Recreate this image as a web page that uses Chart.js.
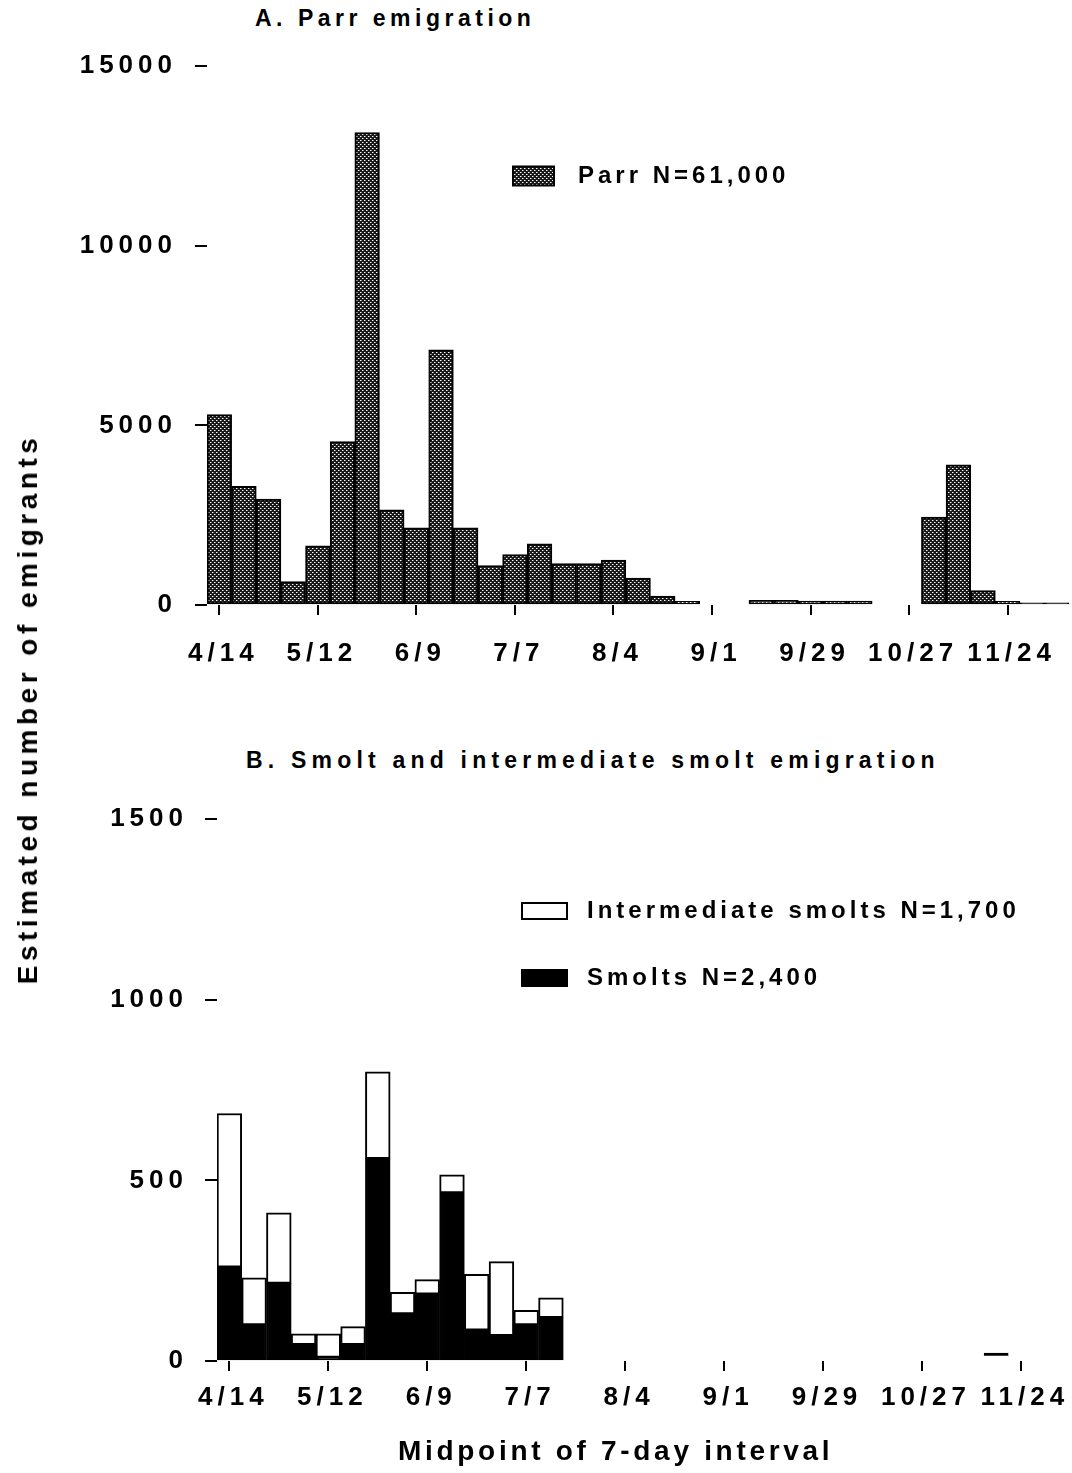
<!DOCTYPE html>
<html lang="en">
<head>
<meta charset="utf-8">
<title>Parr and smolt emigration</title>
<script src="https://cdn.jsdelivr.net/npm/chart.js@4.4.1/dist/chart.umd.min.js"></script>
<style>
  html, body { margin: 0; padding: 0; background: #fff; overflow: hidden; }
  body { width: 1072px; height: 1473px; position: relative; font-family: 'Liberation Sans', Arial, sans-serif; font-weight: bold; color: #000; }
  canvas { position: absolute; left: 0; }
  #chart-parr { top: 0; }
  #chart-smolt { top: 700px; }
  .title { position: absolute; font-size: 23px; white-space: nowrap; line-height: 1; }
  #title-a { left: 255px; top: 7px; letter-spacing: 4.5px; }
  #title-b { left: 246px; top: 749px; letter-spacing: 5.2px; }
  #x-title { position: absolute; left: 398px; top: 1437px; font-size: 28px; letter-spacing: 3.7px; white-space: nowrap; line-height: 1; }
  #y-title { position: absolute; left: 28px; top: 709px; transform: translate(-50%, -50%) rotate(-90deg); font-size: 28px; letter-spacing: 4.5px; white-space: nowrap; line-height: 1; }
</style>
</head>
<body>
<div class="title" id="title-a">A. Parr emigration</div>
<canvas id="chart-parr" width="1080" height="700"></canvas>
<div class="title" id="title-b">B. Smolt and intermediate smolt emigration</div>
<canvas id="chart-smolt" width="1080" height="773"></canvas>
<div id="y-title">Estimated number of emigrants</div>
<div id="x-title">Midpoint of 7-day interval</div>

<script>
// midpoints of the weekly trapping intervals
const weeks = ['4/14', '4/21', '4/28', '5/5', '5/12', '5/19', '5/26', '6/2', '6/9', '6/16', '6/23', '6/30',
               '7/7', '7/14', '7/21', '7/28', '8/4', '8/11', '8/18', '8/25', '9/1', '9/8', '9/15', '9/22',
               '9/29', '10/6', '10/13', '10/20', '10/27', '11/3', '11/10', '11/17', '11/24', '12/1', '12/8'];
const axisLabels = ['4/14', '5/12', '6/9', '7/7', '8/4', '9/1', '9/29', '10/27', '11/24'];

// A. parr per week
const parr = [5300, 3300, 2950, 650, 1650, 4550, 13150, 2650, 2150, 7100, 2150, 1100,
              1400, 1700, 1150, 1150, 1250, 750, 250, 100, 0, 0, 130, 130,
              110, 110, 110, 0, 0, 2450, 3900, 400, 100, 60, 60];

// B. smolts and intermediate smolts per week (panel stops at 12/1)
const smoltWeeks = weeks.slice(0, 34);
const smolts = [260, 100, 215, 45, 10, 45, 560, 130, 185, 465, 85, 70,
                100, 120, null, null, null, null, null, null, null, null, null, null,
                null, null, null, null, null, null, null, 0, null, null];
const intermediates = [425, 130, 195, 30, 65, 50, 240, 60, 40, 50, 155, 205,
                       40, 55, null, null, null, null, null, null, null, null, null, null,
                       null, null, null, null, null, null, null, 22, null, null];

const FONT = '"Liberation Sans", Arial, sans-serif';
Chart.defaults.font.family = FONT;
Chart.defaults.color = '#000';

// --- stippled fill for the parr bars ---
function stipple(ctx) {
    const tile = document.createElement('canvas');
    tile.width = 4; tile.height = 4;
    const t = tile.getContext('2d');
    t.fillStyle = '#1a1a1a';
    t.fillRect(0, 0, 4, 4);
    t.fillStyle = '#fff';
    t.fillRect(0, 0, 1, 1);
    t.fillRect(2, 2, 1, 1);
    t.fillStyle = '#808080';
    t.fillRect(1, 0, 1, 1);
    t.fillRect(3, 2, 1, 1);
    return ctx.createPattern(tile, 'repeat');
}

// canvas text spacing for tick labels
const spacing = {
    id: 'spacing',
    beforeDraw(chart) { chart.ctx.letterSpacing = '5px'; }
};

// boxed legend drawn at a fixed spot inside the plot
const boxLegend = {
    id: 'boxLegend',
    afterDraw(chart, args, opts) {
        const ctx = chart.ctx;
        ctx.save();
        ctx.letterSpacing = '4px';
        ctx.font = 'bold 24px ' + FONT;
        ctx.textBaseline = 'middle';
        opts.order.forEach((i, n) => {
            const ds = chart.data.datasets[i];
            const y = opts.y + n * opts.step;
            ctx.fillStyle = ds.backgroundColor;
            ctx.fillRect(opts.x, y - opts.h / 2, opts.w, opts.h);
            ctx.lineWidth = 2;
            ctx.strokeStyle = '#000';
            ctx.strokeRect(opts.x, y - opts.h / 2, opts.w, opts.h);
            ctx.fillStyle = '#000';
            ctx.fillText(ds.label, opts.x + opts.w + opts.gap, y);
        });
        ctx.restore();
    }
};

function xAxis(height, padding) {
    return {
        offset: true,
        border: { display: false },
        grid: {
            offset: false,
            drawOnChartArea: false,
            drawTicks: true,
            tickLength: 10,
            lineWidth: 2,
            color: c => (c.tick && c.tick.label) ? '#000' : 'rgba(0,0,0,0)'
        },
        ticks: {
            autoSkip: false,
            maxRotation: 0,
            minRotation: 0,
            padding: padding,
            labelOffset: 4,
            font: { size: 26, weight: 'bold' },
            callback: function (value) {
                const l = this.getLabelForValue(value);
                return axisLabels.includes(l) ? l : '';
            }
        },
        afterFit: s => { s.height = height; }
    };
}

function yAxis(max, step, width, padding) {
    return {
        min: 0,
        max: max,
        border: { display: false },
        grid: { drawOnChartArea: false, drawTicks: true, tickLength: 12, lineWidth: 2, color: '#000' },
        ticks: { stepSize: step, padding: padding, font: { size: 26, weight: 'bold' }, callback: v => String(v) },
        afterFit: s => { s.width = width; }
    };
}

// --- A. PARR EMIGRATION ---
const ctxA = document.getElementById('chart-parr').getContext('2d');
new Chart(ctxA, {
    type: 'bar',
    data: {
        labels: weeks,
        datasets: [{
            label: 'Parr N=61,000',
            data: parr,
            backgroundColor: stipple(ctxA),
            borderColor: '#000',
            borderWidth: 2,
            borderSkipped: false,
            barPercentage: 1,
            categoryPercentage: 1
        }]
    },
    options: {
        responsive: false,
        animation: false,
        events: [],
        layout: { padding: { top: 66, right: 5, bottom: 0, left: 0 } },
        plugins: {
            legend: { display: false },
            tooltip: { enabled: false },
            boxLegend: { x: 513, y: 176, w: 41, h: 19, step: 0, gap: 24, order: [0] }
        },
        scales: { x: xAxis(95, 23), y: yAxis(15000, 5000, 207, 18) }
    },
    plugins: [spacing, boxLegend]
});

// --- B. SMOLT AND INTERMEDIATE SMOLT EMIGRATION ---
const ctxB = document.getElementById('chart-smolt').getContext('2d');
new Chart(ctxB, {
    type: 'bar',
    data: {
        labels: smoltWeeks,
        datasets: [
            {
                label: 'Smolts N=2,400',
                data: smolts,
                backgroundColor: '#000',
                borderColor: '#000',
                borderWidth: 2,
                borderSkipped: false,
                barPercentage: 1,
                categoryPercentage: 1
            },
            {
                label: 'Intermediate smolts N=1,700',
                data: intermediates,
                backgroundColor: '#fff',
                borderColor: '#000',
                // a lone intermediate week shows only its top edge
                borderWidth: c => smolts[c.dataIndex] ? 2 : { top: 3, left: 0, right: 0, bottom: 0 },
                borderSkipped: false,
                barPercentage: 1,
                categoryPercentage: 1
            }
        ]
    },
    options: {
        responsive: false,
        animation: false,
        events: [],
        layout: { padding: { top: 119, right: 22, bottom: 0, left: 0 } },
        plugins: {
            legend: { display: false },
            tooltip: { enabled: false },
            boxLegend: { x: 522, y: 211, w: 45, h: 16, step: 67, gap: 20, order: [1, 0] }
        },
        scales: {
            x: Object.assign(xAxis(112, 11), { stacked: true }),
            y: Object.assign(yAxis(1500, 500, 217, 17), { stacked: true })
        }
    },
    plugins: [spacing, boxLegend]
});
</script>
</body>
</html>
